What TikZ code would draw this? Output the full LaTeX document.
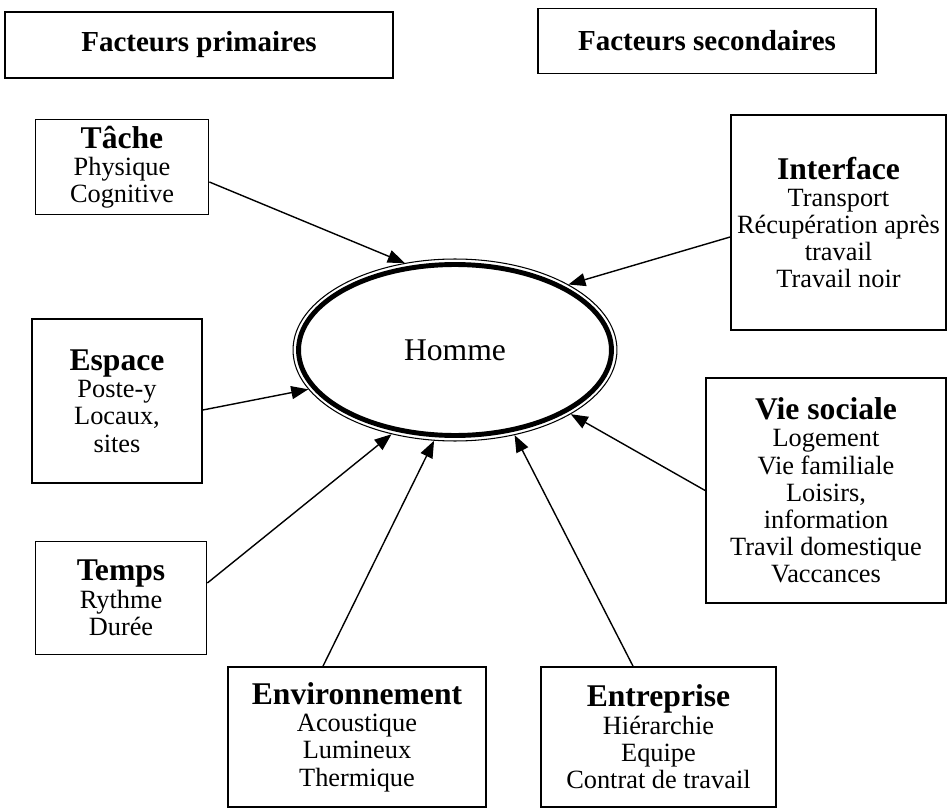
\documentclass[tikz,border=0pt]{standalone}
\usepackage{fontspec}
\setmainfont{Liberation Serif}
\usetikzlibrary{arrows.meta, positioning, shapes.geometric}
\newcommand{\boxtitle}[1]{{\fontsize{18}{16}\selectfont\bfseries #1}}

\begin{document}
\begin{tikzpicture}[
  x=0.02cm, y=-0.02cm,
  box/.style={draw, line width=1pt, align=center, inner sep=0pt,
              font=\fontsize{15}{15.5}\selectfont},
  head/.style={box, font=\fontsize{16.5}{18}\selectfont\bfseries},
  arr/.style={-{Triangle[length=3.4mm, width=2.6mm]}, line width=0.8pt}
]
\useasboundingbox (0,0) rectangle (951,811);
% titres
\node[head, minimum width=7.76cm, minimum height=1.32cm] (prim) at (199,45) {Facteurs primaires};
\node[head, minimum width=6.76cm, minimum height=1.30cm] (sec)  at (707,41) {Facteurs secondaires};
% homme
\node[ellipse, draw, line width=0.6pt, minimum width=6.48cm, minimum height=3.64cm,
      font=\fontsize{18}{20}\selectfont] (homme) at (455,350) {Homme};
\draw[line width=2.8pt] (homme.center) ellipse [x radius=3.13cm, y radius=1.71cm];
% facteurs
\node[box, minimum width=3.46cm, minimum height=1.90cm] (tache)  at (122,167) {\boxtitle{Tâche}\\Physique\\Cognitive};
\node[box, minimum width=3.40cm, minimum height=3.28cm] (espace) at (117,401) {\boxtitle{Espace}\\Poste-y\\Locaux,\\sites};
\node[box, minimum width=3.42cm, minimum height=2.26cm] (temps)  at (121,598) {\boxtitle{Temps}\\Rythme\\Durée};
\node[box, minimum width=5.16cm, minimum height=2.80cm] (env)    at (357,737) {\boxtitle{Environnement}\\Acoustique\\Lumineux\\Thermique};
\node[box, minimum width=4.70cm, minimum height=2.80cm] (entr)   at (658.5,737) {\boxtitle{Entreprise}\\Hiérarchie\\Equipe\\Contrat de travail};
\node[box, minimum width=4.30cm, minimum height=4.30cm] (inter)  at (838.5,222.5) {\boxtitle{Interface}\\Transport\\Récupération après\\travail\\Travail noir};
\node[box, minimum width=4.80cm, minimum height=4.50cm] (vie)    at (826,490.5) {\boxtitle{Vie sociale}\\Logement\\Vie familiale\\Loisirs,\\information\\Travil domestique\\Vaccances};
% fleches
\draw[arr] ([yshift=-0.3cm]tache.east) -- (homme.120);
\draw[arr] ([yshift=-0.29cm]inter.west) -- (homme.30);
\draw[arr] ([yshift=-0.18cm]espace.east) -- (homme.195);
\draw[arr] (vie.west) -- (homme.331);
\draw[arr] ([yshift=0.3cm]temps.east) -- (homme.233);
\draw[arr] ([xshift=-0.68cm]env.north) -- (homme.257);
\draw[arr] ([xshift=-0.51cm]entr.north) -- (homme.305);
\end{tikzpicture}
\end{document}
